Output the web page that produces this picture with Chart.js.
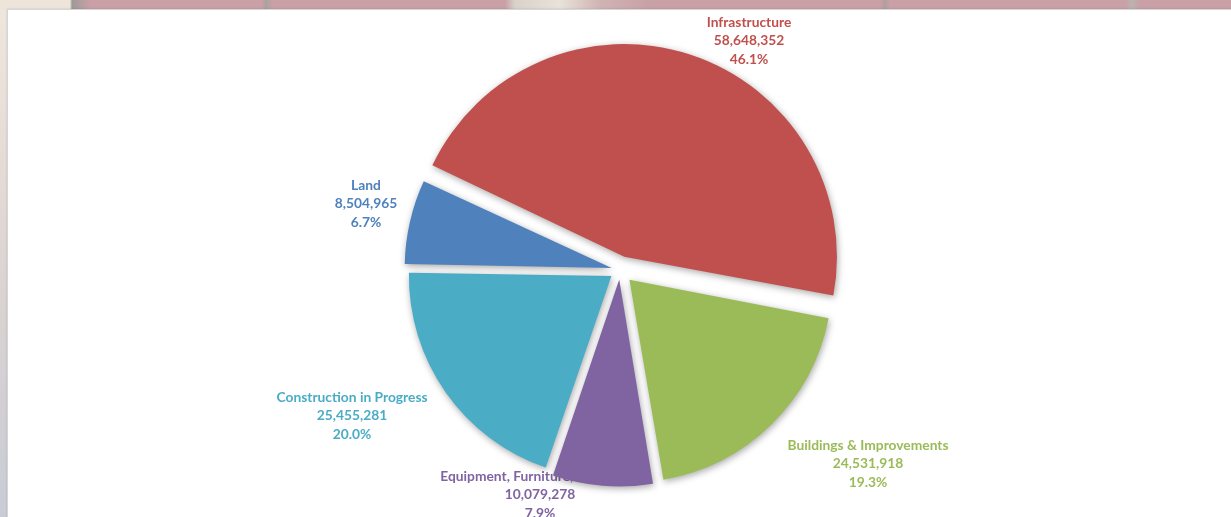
<!DOCTYPE html>
<html>
<head>
<meta charset="utf-8">
<script src="https://cdn.jsdelivr.net/npm/chart.js@4.4.1/dist/chart.umd.min.js"></script>
<style>
    html, body { margin: 0; padding: 0; }
    body {
        width: 1231px; height: 517px; overflow: hidden; position: relative;
        background: linear-gradient(to bottom, #efe7de 0%, #e6dcd6 30%, #d9d2d2 60%, #c9ccd6 100%);
    }
    #strip {
        position: absolute; left: 0; top: 0; width: 1231px; height: 10px;
        background: linear-gradient(to right, #ede4da 0px, #ede4da 70px, #9e9a98 72px, #c8a0a6 90px,
            #c8a0a6 262px, #a9a2a2 266px, #c8a0a6 272px, #c8a0a6 505px, #d9d2c8 515px, #e8e2d8 560px,
            #cfb4b4 600px, #c8a0a6 650px, #c8a0a6 880px, #b09ea0 885px, #c8a0a6 890px,
            #c8a0a6 1125px, #bdb2b2 1132px, #c8a0a6 1140px);
    }
    #panel {
        position: absolute; left: 7px; top: 9px; width: 1240px; height: 520px;
        background: #fff; border: 1px solid #d6d6d6;
        box-shadow: 0 0 2px rgba(0,0,0,0.15);
    }
    #wrap { position: absolute; left: 0; top: 0; width: 1231px; height: 517px; }
</style>
</head>
<body>
<div id="strip"></div>
<div id="panel"></div>
<div id="wrap"><canvas id="assetChart"></canvas></div>
<script>
    const categories = ["Infrastructure", "Buildings & Improvements", "Equipment, Furniture, & Fixtures", "Construction in Progress", "Land"];
    const assetValues = [58648352, 24531918, 10079278, 25455281, 8504965];
    const sliceColors = ["#C0504D", "#9BBB59", "#8064A2", "#4BACC6", "#4F81BD"];
    // Chart.js v4 draws a quarter of this as the actual explode distance
    const sliceOffsets = [56, 54, 38, 42, 34];
    // label centre (middle line), relative to the pie centre
    const labelShift = [[129, -229], [248, 194], [-80, 225], [-268, 146], [-254, -66]];

    const total = assetValues.reduce((a, b) => a + b, 0);

    const shadowPlugin = {
        id: 'sliceShadow',
        beforeDatasetsDraw(chart) {
            const ctx = chart.ctx;
            // labels go under the slices (Equipment label gets cut off by its slice)
            const cx = (chart.chartArea.left + chart.chartArea.right) / 2;
            const cy = (chart.chartArea.top + chart.chartArea.bottom) / 2;
            ctx.save();
            ctx.font = 'bold 13.8px Lato, "Open Sans", sans-serif';
            ctx.textAlign = 'center';
            ctx.textBaseline = 'middle';
            categories.forEach((name, i) => {
                const x = cx + labelShift[i][0];
                const y = cy + labelShift[i][1];
                const pct = (assetValues[i] / total * 100).toFixed(1) + '%';
                ctx.fillStyle = sliceColors[i];
                ctx.fillText(name, x, y - 18.5);
                ctx.fillText(assetValues[i].toLocaleString('en-US'), x, y);
                ctx.fillText(pct, x, y + 18.5);
            });
            ctx.restore();

            ctx.save();
            ctx.shadowColor = 'rgba(0,0,0,0.35)';
            ctx.shadowBlur = 7;
            ctx.shadowOffsetX = 1;
            ctx.shadowOffsetY = 2;
        },
        afterDatasetsDraw(chart) {
            chart.ctx.restore();
        }
    };

    new Chart(document.getElementById('assetChart'), {
        type: 'pie',
        data: {
            labels: categories,
            datasets: [{
                data: assetValues,
                backgroundColor: sliceColors,
                borderWidth: 0,
                offset: sliceOffsets
            }]
        },
        options: {
            responsive: true,
            maintainAspectRatio: false,
            animation: false,
            rotation: -65,
            layout: { padding: { left: 9, right: 0, top: 40, bottom: 17 } },
            plugins: {
                legend: { display: false },
                tooltip: { enabled: false }
            }
        },
        plugins: [shadowPlugin]
    });
</script>
</body>
</html>
